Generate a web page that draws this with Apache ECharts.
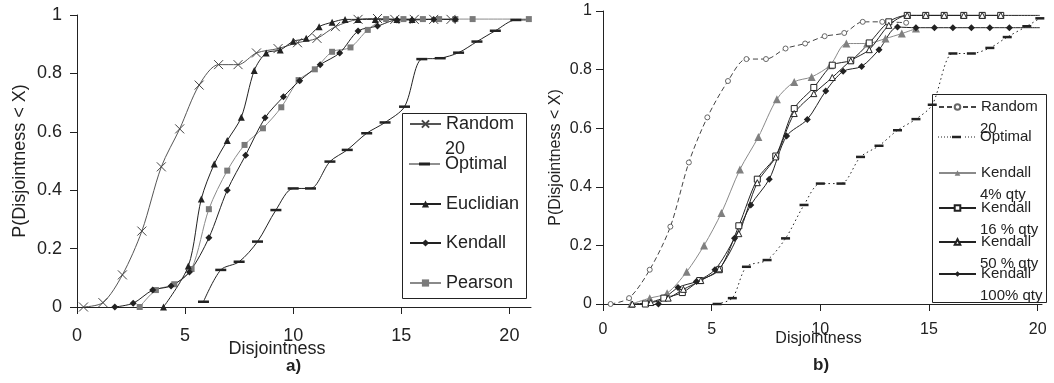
<!DOCTYPE html>
<html>
<head>
<meta charset="utf-8">
<title>P(Disjointness &lt; X)</title>
<script src="https://cdn.jsdelivr.net/npm/echarts@6/dist/echarts.min.js"></script>
<style>
  html, body { margin: 0; padding: 0; background: #fff; }
  #chart { width: 1054px; height: 383px; }
</style>
</head>
<body>
<div id="chart"></div>
<script>
// ---- panel a) : [disjointness, probability]
const randomA = [[0.3,0],[1.2,0.015],[2.1,0.11],[3.0,0.26],[3.9,0.48],[4.75,0.61],[5.65,0.76],[6.55,0.83],[7.45,0.83],[8.3,0.87],[9.3,0.885],[10.2,0.905],[11.1,0.92],[11.95,0.96],[13.0,0.985],[13.9,0.988],[14.7,0.985],[15.6,0.985],[16.5,0.985],[17.3,0.985]];
const optimalA = [[5.85,0.018],[6.65,0.127],[7.5,0.155],[8.35,0.224],[9.2,0.332],[10.0,0.406],[10.8,0.406],[11.7,0.498],[12.5,0.538],[13.4,0.595],[14.25,0.632],[15.15,0.686],[15.95,0.849],[16.8,0.852],[17.65,0.871],[18.5,0.909],[19.35,0.946],[20.3,0.983],[20.9,0.983]];
const euclidA = [[4.0,0],[5.15,0.14],[5.75,0.37],[6.35,0.49],[6.95,0.57],[7.6,0.65],[8.2,0.81],[8.75,0.87],[9.4,0.88],[10.0,0.91],[10.6,0.92],[11.2,0.96],[11.8,0.975],[12.4,0.985],[13.0,0.985],[13.8,0.985],[14.8,0.985],[15.5,0.985]];
const kendallA = [[1.75,0],[2.6,0.013],[3.5,0.058],[4.35,0.072],[5.2,0.12],[6.1,0.237],[6.95,0.4],[7.8,0.52],[8.7,0.648],[9.55,0.72],[10.3,0.775],[11.25,0.83],[12.15,0.87],[13.0,0.945],[13.9,0.962],[14.8,0.983],[15.5,0.983],[16.5,0.985],[17.5,0.985]];
const pearsonA = [[2.9,0],[3.65,0.058],[4.5,0.078],[5.3,0.13],[6.1,0.335],[6.95,0.467],[7.75,0.555],[8.6,0.612],[9.45,0.684],[10.25,0.777],[11.0,0.814],[11.8,0.874],[12.65,0.889],[13.45,0.949],[14.3,0.986],[15.1,0.986],[16.0,0.986],[16.75,0.986],[17.5,0.986],[18.3,0.986],[20.9,0.986]];

// ---- panel b)
const randomB = [[0.35,0],[1.2,0.02],[2.15,0.117],[3.1,0.264],[3.95,0.483],[4.8,0.637],[5.75,0.761],[6.6,0.836],[7.5,0.836],[8.4,0.872],[9.3,0.889],[10.2,0.914],[11.1,0.925],[11.95,0.963],[12.85,0.963],[13.95,0.96]];
const optimalB = [[5.25,0],[5.95,0.02],[6.6,0.127],[7.55,0.15],[8.4,0.224],[9.25,0.338],[10.0,0.411],[10.95,0.411],[11.85,0.502],[12.7,0.54],[13.55,0.593],[14.4,0.631],[15.15,0.68],[16.1,0.855],[16.95,0.855],[17.8,0.874],[18.6,0.911],[19.5,0.948],[20.1,0.975]];
const k4B = [[1.3,0],[2.15,0.02],[2.95,0.037],[3.85,0.11],[4.65,0.2],[5.45,0.311],[6.3,0.459],[7.15,0.57],[8.0,0.699],[8.8,0.758],[9.6,0.775],[10.45,0.815],[11.2,0.889],[12.15,0.889],[13.0,0.906],[13.75,0.923],[14.4,0.94]];
const k16B = [[1.95,0],[2.8,0.02],[3.65,0.039],[4.45,0.08],[5.35,0.117],[6.25,0.267],[7.1,0.426],[7.95,0.505],[8.8,0.667],[9.7,0.739],[10.55,0.815],[11.4,0.832],[12.25,0.891],[13.15,0.963],[14.0,0.985],[14.85,0.985],[15.7,0.985],[16.6,0.985],[17.45,0.985],[18.3,0.985],[20.1,0.985]];
const k50B = [[1.35,0],[2.2,0.005],[3.0,0.02],[3.7,0.05],[4.5,0.08],[5.35,0.12],[6.25,0.24],[7.1,0.414],[7.95,0.502],[8.8,0.65],[9.7,0.718],[10.55,0.773],[11.4,0.83],[12.25,0.868],[13.15,0.951],[14.0,0.985],[14.85,0.985],[15.7,0.985],[16.6,0.985],[17.45,0.985],[18.3,0.985]];
const k100B = [[2.55,0],[3.45,0.056],[4.3,0.077],[5.15,0.117],[6.05,0.224],[6.8,0.338],[7.65,0.426],[8.45,0.573],[9.4,0.63],[10.25,0.727],[11.05,0.794],[11.9,0.811],[12.7,0.868],[13.55,0.945],[14.4,0.943],[15.25,0.943],[16.1,0.943],[16.95,0.943],[17.8,0.943],[18.7,0.943],[20.1,0.943]];

const X_TICKS = [0, 5, 10, 15, 20];

const LEG_A_NAMES = ['Random 20 (a)', 'Optimal (a)', 'Euclidian', 'Kendall', 'Pearson'];
const LEG_A_LABELS = ['Random\n20', 'Optimal', 'Euclidian', 'Kendall', 'Pearson'];
const LEG_B_NAMES = ['Random 20 (b)', 'Optimal (b)', 'Kendall 4%', 'Kendall 16%', 'Kendall 50%', 'Kendall 100%'];
const LEG_B_LABELS = ['Random\n20', 'Optimal', 'Kendall\n4% qty', 'Kendall\n16 % qty', 'Kendall\n50 % qty', 'Kendall\n100% qty'];

// layout
const FONT = "'Liberation Sans', Arial, sans-serif";
const INK = '#222';
const LEG_A_Y = [124, 164, 204, 243, 283];
const LEG_B_Y = [107, 137, 173, 208, 242, 274];

// last point carries the line on to the axis end without a marker
const pts = (arr, tail) => arr.map((p, i) => (tail && i === arr.length - 1) ? { value: p, symbol: 'none' } : p);

function line(name, data, idx, o) {
  return {
    type: 'line', name, data, xAxisIndex: idx, yAxisIndex: idx,
    smooth: 0.3, showAllSymbol: true, animation: false, z: o.z || 2,
    symbol: o.symbol, symbolSize: o.size,
    lineStyle: { color: o.color, width: 1, type: o.type || 'solid' },
    itemStyle: { color: o.fill || o.color, borderColor: o.stroke || o.color, borderWidth: o.bw || 0 },
    emphasis: { disabled: true }
  };
}

const X_SYMBOL = 'path://M0,0L10,10M10,0L0,10';
const OPT_ICON_A = 'path://M0,4H31V5H0ZM10,3H21V6H10Z';
let dots = '';
for (let x = 0; x < 37; x += 3) if (x < 13 || x > 24) dots += `M${x},3H${x + 1}V4H${x}Z`;
const OPT_ICON_B = 'path://' + dots + 'M14,2.2H23V4.8H14Z';

// one legend per entry so each sits where the original put it
function legendFor(name, label, y, cfg) {
  return {
    data: [cfg.icons[name] ? { name, icon: cfg.icons[name] } : name],
    left: cfg.x, top: y - Math.max(cfg.lh, cfg.h) / 2, padding: 0,
    itemWidth: cfg.w, itemHeight: cfg.h, selectedMode: false,
    formatter: () => label.split('\n')[0],
    textStyle: { fontFamily: FONT, fontSize: cfg.fs, lineHeight: cfg.lh, color: INK }
  };
}
// wrapped second line of a legend label
function secondLine(label, y, cfg) {
  const parts = label.split('\n');
  if (parts.length < 2) return null;
  return {
    type: 'text', silent: true, z: 5,
    style: { text: parts[1], x: cfg.x + cfg.w + 5, y: y + cfg.second, fill: INK, font: `${cfg.fs}px ${FONT}`, verticalAlign: 'middle' }
  };
}

function xAxis(idx, max, fs, margin, gap, shift) {
  return {
    gridIndex: idx, type: 'value', min: 0, max,
    axisLine: { show: true, onZero: false, lineStyle: { color: INK, width: 1 } },
    axisTick: { show: true, customValues: X_TICKS, length: 7, lineStyle: { color: INK } },
    axisLabel: { customValues: X_TICKS, margin, fontSize: fs, color: INK, fontFamily: FONT },
    splitLine: { show: false },
    name: 'Disjointness', nameLocation: 'middle', nameGap: gap, nameMoveOverlap: false,
    nameTextStyle: { fontSize: fs, color: INK, fontFamily: FONT, padding: [0, shift, 0, 0] }
  };
}

function yAxis(idx, fs, margin, gap) {
  return {
    gridIndex: idx, type: 'value', min: 0, max: 1, interval: 0.2,
    axisLine: { show: true, onZero: false, lineStyle: { color: INK, width: 1 } },
    axisTick: { show: true, length: 7, lineStyle: { color: INK } },
    axisLabel: { margin, fontSize: fs, color: INK, fontFamily: FONT },
    splitLine: { show: false },
    name: 'P(Disjointness < X)', nameLocation: 'middle', nameGap: gap, nameMoveOverlap: false,
    nameTextStyle: { fontSize: fs, color: INK, fontFamily: FONT }
  };
}

const cfgA = { x: 409, w: 31, h: 9, fs: 18, lh: 20, second: 25, icons: { 'Optimal (a)': OPT_ICON_A } };
const cfgB = { x: 938, w: 37, h: 7, fs: 15, lh: 17, second: 22, icons: { 'Optimal (b)': OPT_ICON_B } };

const chart = echarts.init(document.getElementById('chart'), null, { renderer: 'canvas' });
chart.setOption({
  animation: false,
  backgroundColor: '#fff',
  textStyle: { fontFamily: FONT },
  title: [
    { text: 'a)', left: 286, top: 358, padding: 0, textStyle: { fontSize: 17, fontWeight: 'bold', color: INK, fontFamily: FONT } },
    { text: 'b)', left: 813, top: 357, padding: 0, textStyle: { fontSize: 17, fontWeight: 'bold', color: INK, fontFamily: FONT } }
  ],
  grid: [
    { left: 77, top: 15, width: 454, height: 292 },
    { left: 603, top: 11, width: 439, height: 293 }
  ],
  xAxis: [xAxis(0, 21, 18, 20, 33, 54), xAxis(1, 20.2, 16, 18, 27, 8)],
  yAxis: [yAxis(0, 18, 15, 48), yAxis(1, 16, 11, 39)],
  legend: [
    ...LEG_A_NAMES.map((n, i) => legendFor(n, LEG_A_LABELS[i], LEG_A_Y[i], cfgA)),
    ...LEG_B_NAMES.map((n, i) => legendFor(n, LEG_B_LABELS[i], LEG_B_Y[i], cfgB))
  ],
  graphic: [
    { type: 'rect', silent: true, z: 0, shape: { x: 402.5, y: 113.5, width: 124, height: 185 }, style: { fill: 'none', stroke: INK, lineWidth: 1 } },
    { type: 'rect', silent: true, z: 0, shape: { x: 932.5, y: 94.5, width: 114, height: 208 }, style: { fill: 'none', stroke: INK, lineWidth: 1 } },
    ...LEG_A_LABELS.map((l, i) => secondLine(l, LEG_A_Y[i], cfgA)).filter(Boolean),
    ...LEG_B_LABELS.map((l, i) => secondLine(l, LEG_B_Y[i], cfgB)).filter(Boolean)
  ],
  series: [
    line('Pearson', pts(pearsonA), 0, { color: '#8a8a8a', fill: '#7a7a7a', symbol: 'rect', size: 6 }),
    line('Random 20 (a)', pts(randomA), 0, { color: '#555', fill: 'rgba(0,0,0,0)', stroke: '#444', bw: 1, symbol: X_SYMBOL, size: 9 }),
    line('Optimal (a)', pts(optimalA, true), 0, { color: '#222', symbol: 'rect', size: [11, 2.5] }),
    line('Euclidian', pts(euclidA), 0, { color: '#222', symbol: 'triangle', size: 7 }),
    line('Kendall', pts(kendallA), 0, { color: '#222', symbol: 'diamond', size: 7 }),

    line('Random 20 (b)', pts(randomB), 1, { color: '#444', type: [5, 3], fill: '#fff', stroke: '#666', bw: 1, symbol: 'circle', size: 5 }),
    line('Optimal (b)', pts(optimalB), 1, { color: '#222', type: [1.5, 3], symbol: 'rect', size: [9, 2.5] }),
    line('Kendall 4%', pts(k4B), 1, { color: '#8a8a8a', fill: '#808080', symbol: 'triangle', size: 8 }),
    line('Kendall 16%', pts(k16B, true), 1, { color: '#222', fill: '#fff', stroke: '#222', bw: 1, symbol: 'rect', size: 6 }),
    line('Kendall 50%', pts(k50B), 1, { color: '#222', fill: '#fff', stroke: '#222', bw: 1, symbol: 'triangle', size: 6 }),
    line('Kendall 100%', pts(k100B, true), 1, { color: '#222', symbol: 'diamond', size: 7 })
  ]
});
window.addEventListener('resize', () => chart.resize());
</script>
</body>
</html>
